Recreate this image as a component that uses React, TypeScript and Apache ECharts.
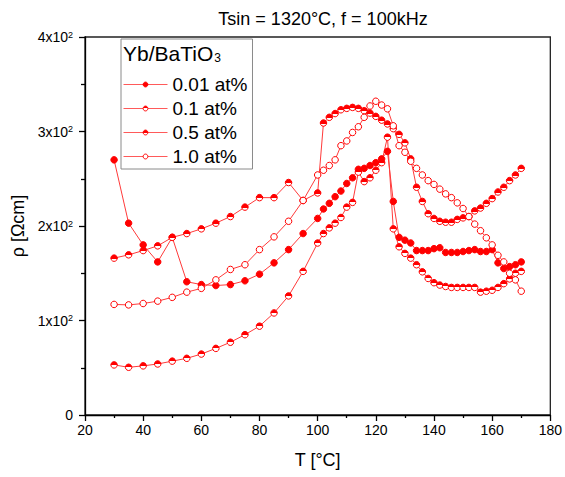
import React, { useEffect, useRef } from "react";
import * as echarts from "echarts";

const FONT = "'Liberation Sans', Arial, Helvetica, sans-serif";

const temps = [
  30, 35, 40, 45, 50, 55, 60, 65, 70, 75, 80, 85, 90, 95, 100,
  102, 104, 106, 108, 110, 112, 114, 116, 118, 120, 122, 124, 126, 128, 130,
  132, 134, 136, 138, 140, 142, 144, 146, 148, 150, 152, 154, 156, 158, 160,
  162, 164, 166, 168, 170,
];

const rho001 = [
  270, 203, 180, 162, 188, 141, 138, 137, 138, 142, 149, 161, 175, 192, 208,
  218, 224, 231, 237, 245, 251, 260, 261, 264, 267, 271, 279, 226, 188, 185,
  182, 174, 174, 174, 176, 177, 172, 172, 172, 173, 174, 175, 173, 173, 175,
  161, 155, 157, 159, 162,
];

const rho01 = [
  53, 50.5, 52, 54, 57, 60, 64.5, 70.5, 77, 85, 94, 108, 126, 152, 182,
  192, 198, 203, 209, 220, 225, 257, 247, 251, 259, 267, 294, 197, 178, 171,
  166, 159, 151.5, 144.5, 140, 137.5, 136, 135, 135, 135, 135, 135, 130, 131, 132,
  135, 139, 144, 150, 152,
];

const rho05 = [
  166, 169.5, 174, 179, 188, 192, 197, 203, 210, 220, 230, 230, 246, 227, 235,
  309, 315, 319, 323, 324.5, 325.5, 324.5, 322, 319.5, 316, 312, 308, 303, 297, 288,
  271, 241, 226, 213, 208, 205, 204, 204, 207, 208.6, 210, 216, 219, 224, 229,
  236, 241, 248, 254, 261,
];

const rho10 = [
  117, 116.5, 118, 120.5, 124.5, 130, 134, 143, 154, 159, 175, 188.5, 205, 227, 254,
  259, 264, 270, 285, 290, 299, 305, 315, 327, 332, 328, 324, 306, 285, 278,
  268.5, 261, 254, 248, 244, 239, 234, 230, 224.5, 218.5, 210, 202, 195, 187.5, 180,
  169, 162, 150, 143, 131,
];

const seriesNames = ["0.01 at%", "0.1 at%", "0.5 at%", "1.0 at%"];
const xTicks = [20, 40, 60, 80, 100, 120, 140, 160, 180];
const yTicks = [0, 100, 200, 300, 400];

const RED = "#ff0000";

function halfFill(offset: number) {
  return {
    type: "linear",
    x: 0,
    y: 0,
    x2: 0,
    y2: 1,
    colorStops: [
      { offset: 0, color: RED },
      { offset: offset, color: RED },
      { offset: offset, color: "#ffffff" },
      { offset: 1, color: "#ffffff" },
    ],
  };
}

function mkSeries(name: string, values: number[], fill: any) {
  return {
    name,
    type: "line",
    data: temps.map((t, i) => [t, values[i]]),
    symbol: "circle",
    symbolSize: 6.5,
    showSymbol: true,
    lineStyle: { color: "#ff3a3a", width: 1 },
    itemStyle: { color: fill, borderColor: RED, borderWidth: 1 },
    emphasis: { disabled: true },
  };
}

export default function App() {
  const ref = useRef<HTMLDivElement>(null);
  useEffect(() => {
    if (!ref.current) return;
    const chart = echarts.init(ref.current, undefined, { renderer: "svg" });
    chart.setOption({
      animation: false,
      backgroundColor: "#ffffff",
      textStyle: { fontFamily: FONT },
      title: {
        text: "Tsin = 1320°C, f = 100kHz",
        left: 318,
        textAlign: "center",
        top: 5,
        textStyle: { fontSize: 18, fontWeight: "normal", color: "#000", fontFamily: FONT },
      },
      grid: {
        left: 85,
        right: 13,
        top: 37,
        bottom: 62,
        show: true,
        borderColor: "#222",
        borderWidth: 1.3,
        backgroundColor: "transparent",
      },
      xAxis: {
        type: "value",
        min: xTicks[0],
        max: xTicks[xTicks.length - 1],
        interval: 20,
        name: "T [°C]",
        nameLocation: "middle",
        nameGap: 36,
        nameTextStyle: { fontSize: 18, color: "#000", fontFamily: FONT },
        axisLine: { show: true, onZero: false, lineStyle: { color: "#000", width: 1.3 } },
        axisTick: { show: true, inside: false, length: 6, lineStyle: { color: "#000", width: 1.3 } },
        minorTick: { show: true, splitNumber: 2, length: 3, lineStyle: { color: "#000", width: 1.3 } },
        axisLabel: { fontSize: 14, color: "#000", margin: 8, fontFamily: FONT },
        splitLine: { show: false },
      },
      yAxis: {
        type: "value",
        min: yTicks[0],
        max: yTicks[yTicks.length - 1],
        interval: 100,
        name: "ρ [Ωcm]",
        nameLocation: "middle",
        nameGap: 52,
        nameTextStyle: { fontSize: 18, color: "#000", fontFamily: FONT },
        axisLine: { show: true, onZero: false, lineStyle: { color: "#000", width: 1.3 } },
        axisTick: { show: true, inside: false, length: 6, lineStyle: { color: "#000", width: 1.3 } },
        minorTick: { show: true, splitNumber: 2, length: 4, lineStyle: { color: "#000", width: 1.3 } },
        axisLabel: {
          fontSize: 14,
          color: "#000",
          margin: 12,
          fontFamily: FONT,
          formatter: (v: number) => (v === 0 ? "0" : `${v / 100}x10{sup|2}`),
          rich: {
            sup: { fontSize: 9, verticalAlign: "top", lineHeight: 9, padding: [0, 0, 6, 0], color: "#000", fontFamily: FONT },
          },
        },
        splitLine: { show: false },
      },
      legend: {
        orient: "vertical",
        left: 121,
        top: 39,
        padding: [36, 5, 3, 2],
        itemWidth: 44,
        itemHeight: 6,
        itemGap: 5,
        borderColor: "#8a8a8a",
        borderWidth: 1,
        backgroundColor: "#ffffff",
        lineStyle: { width: 1, color: "#ff5a5a" },
        itemStyle: { borderWidth: 1, borderColor: RED },
        textStyle: { fontSize: 19, color: "#000", fontFamily: FONT },
        data: seriesNames,
      },
      graphic: [
        {
          type: "text",
          left: 123,
          top: 43,
          z: 100,
          style: {
            text: "Yb/BaTiO{sub|3}",
            fontSize: 21,
            fill: "#000",
            fontFamily: FONT,
            rich: {
              sub: { fontSize: 12, verticalAlign: "bottom", padding: [9, 0, 0, 1], fill: "#000", fontFamily: FONT },
            },
          },
        },
      ],
      series: [
        mkSeries(seriesNames[0], rho001, RED),
        mkSeries(seriesNames[1], rho01, halfFill(0.5)),
        mkSeries(seriesNames[2], rho05, halfFill(0.6)),
        mkSeries(seriesNames[3], rho10, "#ffffff"),
      ],
    });
    return () => chart.dispose();
  }, []);
  return (
    <div
      ref={ref}
      style={{ position: "fixed", left: 0, top: 0, width: 565, height: 477 }}
    />
  );
}
